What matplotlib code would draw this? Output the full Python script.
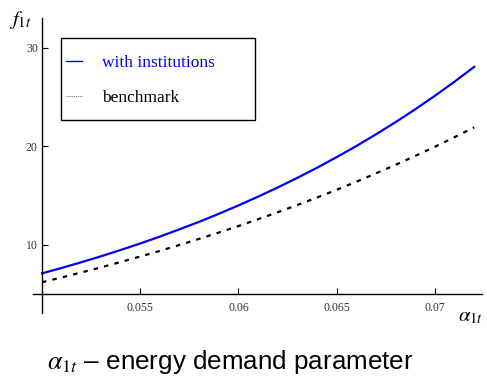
import matplotlib
matplotlib.use("Agg")
import matplotlib.pyplot as plt
from matplotlib.patches import Rectangle

# energy demand parameter alpha_1t
alpha = [0.050, 0.051, 0.052, 0.053, 0.054, 0.055, 0.056, 0.057,
         0.058, 0.059, 0.060, 0.061, 0.062, 0.063, 0.064, 0.065,
         0.066, 0.067, 0.068, 0.069, 0.070, 0.071, 0.072]
# f_1t with institutions
f_inst = [7.10, 7.65, 8.23, 8.83, 9.47, 10.13, 10.83, 11.57,
          12.33, 13.14, 13.99, 14.88, 15.81, 16.79, 17.81, 18.89,
          20.01, 21.20, 22.44, 23.74, 25.11, 26.54, 28.04]
# f_1t benchmark
f_bench = [6.20, 6.69, 7.19, 7.71, 8.25, 8.81, 9.38, 9.98,
           10.60, 11.24, 11.90, 12.59, 13.30, 14.03, 14.79, 15.58,
           16.39, 17.24, 18.11, 19.01, 19.94, 20.91, 21.91]

xticks = [0.055, 0.06, 0.065, 0.07]
xtick_labels = ['0.055', '0.06', '0.065', '0.07']
yticks = [10, 20, 30]

plt.rcParams['mathtext.fontset'] = 'stix'

fig = plt.figure(figsize=(4.87, 3.76), dpi=100)
ax = fig.add_axes([33 / 487, 63 / 376, 449 / 487, 295 / 376])

ax.plot(alpha, f_inst, color='#0000ff', linewidth=1.6, label='with institutions')
ax.plot(alpha, f_bench, color='black', linewidth=1.6, linestyle=(0, (2.0, 2.8)),
        label='benchmark')

ax.set_xlim(0.04954, 0.0724)
ax.set_ylim(3.08, 33)

# Mathematica style axes crossing at (0.05, 5)
for s in ['top', 'right']:
    ax.spines[s].set_visible(False)
ax.spines['left'].set_position(('data', 0.05))
ax.spines['bottom'].set_position(('data', 5))
ax.spines['left'].set_linewidth(1.0)
ax.spines['bottom'].set_linewidth(1.0)

ax.set_xticks(xticks)
ax.set_xticklabels(xtick_labels)
ax.set_yticks(yticks)
ax.tick_params(axis='both', direction='in', length=4, width=0.8, labelsize=8.5)
ax.tick_params(axis='x', pad=6)
ax.tick_params(axis='y', pad=3)
for lab in ax.get_xticklabels() + ax.get_yticklabels():
    lab.set_family('Liberation Serif')
    lab.set_color('#333333')

# axis labels at the ends of the axes
fig.text(20 / 487, 1 - 20 / 376, r'$f_{1t}$', fontsize=15, ha='center', va='center')
fig.text(471 / 487, 1 - 316 / 376, r'$\alpha_{1t}$', fontsize=15, ha='center', va='center')

# caption
fig.text(230 / 487, 1 - 362 / 376, r'$\alpha_{1t}$ – energy demand parameter',
         fontsize=18.7, family='Liberation Sans', ha='center', va='center')

# legend box (drawn separately so the padding can match)
box = Rectangle((61 / 487, 1 - 120 / 376), 194 / 487, 82 / 376,
                transform=fig.transFigure, facecolor='white',
                edgecolor='black', linewidth=1.0, zorder=4, clip_on=False)
ax.add_patch(box)
leg = ax.legend(loc='upper left',
                bbox_to_anchor=(66 / 487, 1 - 55 / 376),
                bbox_transform=fig.transFigure,
                prop={'family': 'Liberation Serif', 'size': 12.5},
                frameon=False, borderpad=0, labelspacing=1.1,
                handlelength=0.9, handletextpad=1.15, borderaxespad=0)
leg.set_zorder(6)
leg.get_texts()[0].set_color('#0000ff')
leg.get_lines()[0].set_linewidth(1.0)
leg.get_lines()[1].set_linewidth(0.7)
leg.get_lines()[1].set_linestyle((0, (1, 1)))
leg.get_lines()[1].set_color('0.4')

fig.savefig('out.png', dpi=100)
